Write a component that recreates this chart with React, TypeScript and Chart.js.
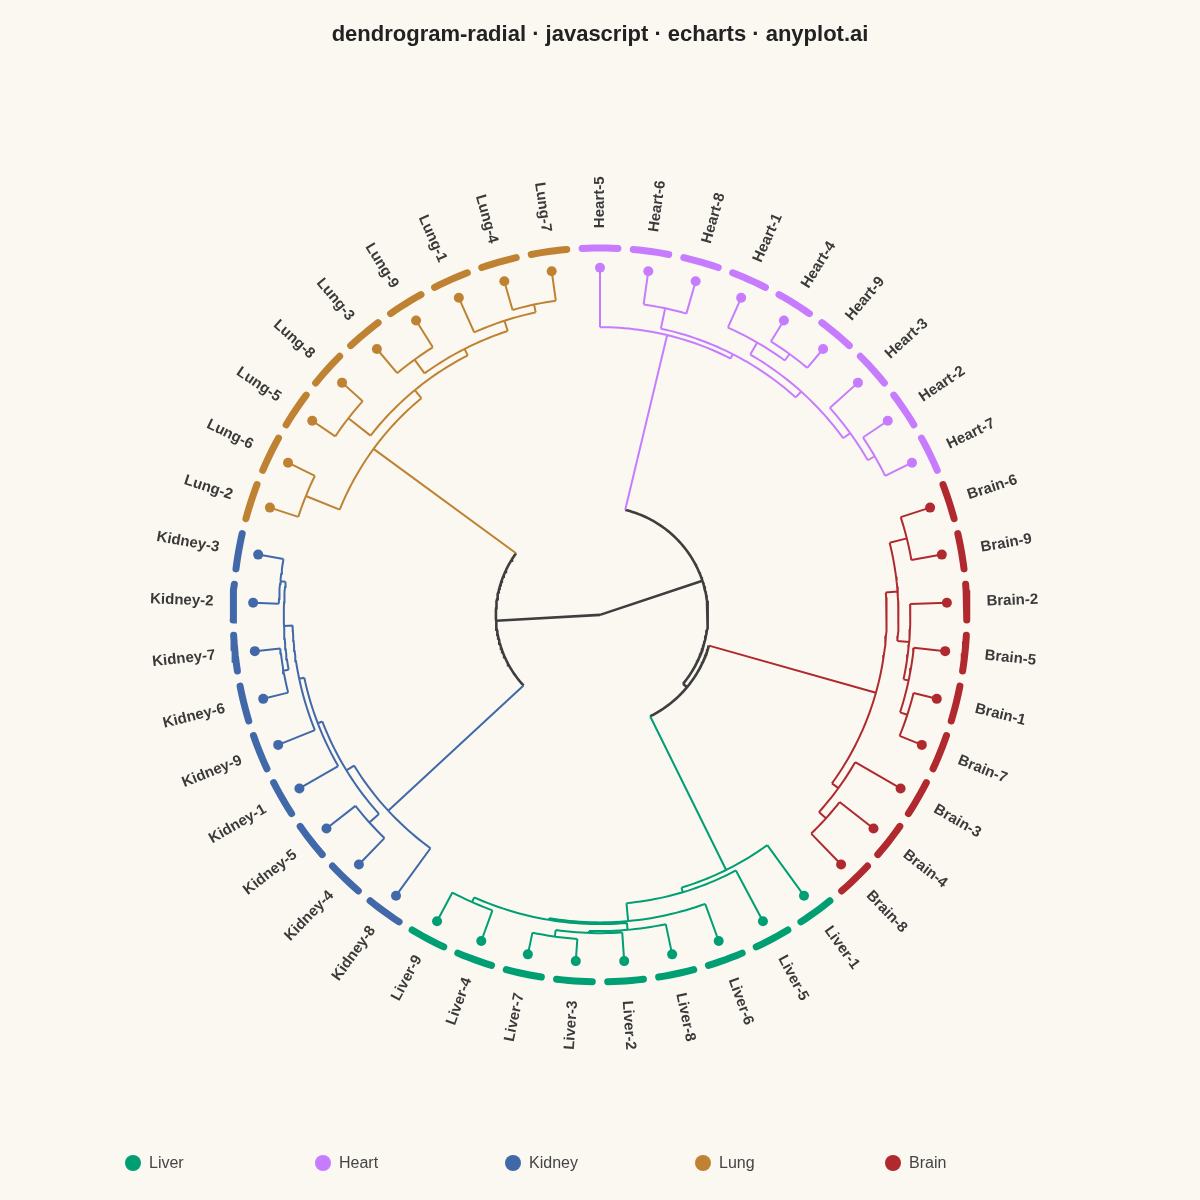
import React, { useEffect, useRef } from 'react';
import { Chart, registerables } from 'chart.js';

Chart.register(...registerables);

const TITLE = 'dendrogram-radial · javascript · echarts · anyplot.ai';

const clusterNames = ['Liver', 'Heart', 'Kidney', 'Lung', 'Brain'];
const clusterColors = ['#009E73', '#C77CFF', '#4168A8', '#BF8232', '#B0292F'];
const linkGray = '#3E3E3E';

// leaf order clockwise from the top
const leafOrder = [
  'Heart-5', 'Heart-6', 'Heart-8', 'Heart-1', 'Heart-4', 'Heart-9', 'Heart-3', 'Heart-2', 'Heart-7',
  'Brain-6', 'Brain-9', 'Brain-2', 'Brain-5', 'Brain-1', 'Brain-7', 'Brain-3', 'Brain-4', 'Brain-8',
  'Liver-1', 'Liver-5', 'Liver-6', 'Liver-8', 'Liver-2', 'Liver-3', 'Liver-7', 'Liver-4', 'Liver-9',
  'Kidney-8', 'Kidney-4', 'Kidney-5', 'Kidney-1', 'Kidney-9', 'Kidney-6', 'Kidney-7', 'Kidney-2', 'Kidney-3',
  'Lung-2', 'Lung-6', 'Lung-5', 'Lung-8', 'Lung-3', 'Lung-9', 'Lung-1', 'Lung-4', 'Lung-7',
];

// merges: [id, childA, childB, height]
const heartMerges: [string, string, string, number][] = [
  ['hA', 'Heart-6', 'Heart-8', 0.97],
  ['hB', 'Heart-4', 'Heart-9', 0.71],
  ['hC', 'Heart-1', 'hB', 0.94],
  ['hD', 'Heart-2', 'Heart-7', 0.86],
  ['hE', 'Heart-3', 'hD', 1.09],
  ['hF', 'hC', 'hE', 1.34],
  ['hG', 'hA', 'hF', 1.57],
  ['Heart', 'Heart-5', 'hG', 1.71],
];
const brainMerges: [string, string, string, number][] = [
  ['bA', 'Brain-6', 'Brain-9', 0.89],
  ['bB', 'Brain-1', 'Brain-7', 0.69],
  ['bC', 'Brain-5', 'bB', 0.91],
  ['bD', 'Brain-2', 'bC', 1.06],
  ['bE', 'bA', 'bD', 1.4],
  ['bF', 'Brain-4', 'Brain-8', 1.24],
  ['bG', 'Brain-3', 'bF', 1.51],
  ['Brain', 'bE', 'bG', 1.74],
];
const liverMerges: [string, string, string, number][] = [
  ['vA', 'Liver-3', 'Liver-7', 0.64],
  ['vB', 'Liver-2', 'vA', 0.83],
  ['vC', 'Liver-8', 'vB', 0.89],
  ['vD', 'Liver-4', 'Liver-9', 0.94],
  ['vE', 'vC', 'vD', 1.09],
  ['vF', 'Liver-6', 'vE', 1.14],
  ['vG', 'Liver-5', 'vF', 1.66],
  ['Liver', 'Liver-1', 'vG', 1.8],
];
const kidneyMerges: [string, string, string, number][] = [
  ['kA', 'Kidney-2', 'Kidney-3', 0.74],
  ['kB', 'Kidney-6', 'Kidney-7', 0.74],
  ['kC', 'kA', 'kB', 0.89],
  ['kD', 'kC', 'Kidney-9', 1.14],
  ['kE', 'kD', 'Kidney-1', 1.29],
  ['kF', 'Kidney-4', 'Kidney-5', 1.06],
  ['kG', 'kE', 'kF', 1.43],
  ['Kidney', 'kG', 'Kidney-8', 1.69],
];
const lungMerges: [string, string, string, number][] = [
  ['lA', 'Lung-4', 'Lung-7', 0.86],
  ['lB', 'Lung-1', 'lA', 1.09],
  ['lC', 'Lung-3', 'Lung-9', 0.91],
  ['lD', 'lC', 'lB', 1.4],
  ['lE', 'Lung-5', 'Lung-8', 0.8],
  ['lF', 'lE', 'lD', 1.61],
  ['lG', 'Lung-2', 'Lung-6', 0.86],
  ['Lung', 'lG', 'lF', 1.91],
];
const topMerges: [string, string, string, number][] = [
  ['BL', 'Brain', 'Liver', 6.74],
  ['R', 'Heart', 'BL', 6.89],
  ['L', 'Lung', 'Kidney', 7.0],
  ['root', 'L', 'R', 10],
];

// layout constants (pixels / degrees)
const LEAF_STEP = 8;
const R_LEAF = 350;
const R_RING = 370;
const R_LABEL = 390;
const RING_HALF = 2.8;

type NodeInfo = { angle: number; h: number; cluster: number };

function buildNodes() {
  const nodes: Record<string, NodeInfo> = {};
  leafOrder.forEach((name, i) => {
    nodes[name] = { angle: i * LEAF_STEP, h: 0, cluster: clusterNames.indexOf(name.split('-')[0]) };
  });
  const tables: [[string, string, string, number][], number][] = [
    [heartMerges, clusterNames.indexOf('Heart')],
    [brainMerges, clusterNames.indexOf('Brain')],
    [liverMerges, clusterNames.indexOf('Liver')],
    [kidneyMerges, clusterNames.indexOf('Kidney')],
    [lungMerges, clusterNames.indexOf('Lung')],
    [topMerges, -1],
  ];
  const merges: { id: string; a: string; b: string }[] = [];
  tables.forEach(([table, cl]) => {
    table.forEach(([id, a, b, h]) => {
      nodes[id] = { angle: (nodes[a].angle + nodes[b].angle) / 2, h, cluster: cl };
      merges.push({ id, a, b });
    });
  });
  return { nodes, merges };
}

export default function App() {
  const canvasRef = useRef<HTMLCanvasElement | null>(null);

  useEffect(() => {
    const canvas = canvasRef.current;
    if (!canvas) return;
    const { nodes, merges } = buildNodes();
    const rootH = Math.max(...Object.values(nodes).map((n) => n.h));
    const radius = (h: number) => R_LEAF * (1 - h / rootH);
    const toXY = (r: number, deg: number) => {
      const t = (deg * Math.PI) / 180;
      return { x: r * Math.sin(t), y: r * Math.cos(t) };
    };
    const gap = { x: null as any, y: null as any };

    // link paths per colour group (0..4 clusters, 5 = gray)
    const groups: any[][] = clusterNames.map(() => []).concat([[]]);
    const addArc = (g: number, r: number, a1: number, a2: number) => {
      const lo = Math.min(a1, a2);
      const hi = Math.max(a1, a2);
      const n = Math.max(2, Math.ceil(hi - lo) + 1);
      for (let k = 0; k <= n; k++) groups[g].push(toXY(r, lo + ((hi - lo) * k) / n));
      groups[g].push(gap);
    };
    const addRadial = (g: number, r1: number, r2: number, a: number) => {
      groups[g].push(toXY(r1, a), toXY(r2, a), gap);
    };
    const grp = (c: number) => (c < 0 ? 5 : c);
    merges.forEach(({ id, a, b }) => {
      const p = nodes[id];
      const rp = radius(p.h);
      if (rp > 0) addArc(grp(p.cluster), rp, nodes[a].angle, nodes[b].angle);
      [a, b].forEach((c) => {
        const cn = nodes[c];
        addRadial(grp(cn.cluster), radius(cn.h), rp, cn.angle);
      });
    });

    const datasets: any[] = [];
    groups.forEach((pts, g) => {
      datasets.push({
        data: pts,
        showLine: true,
        pointRadius: 0,
        borderColor: g === 5 ? linkGray : clusterColors[g],
        borderWidth: g === 5 ? 2.6 : 2,
        tension: 0,
        fill: false,
        spanGaps: false,
        order: 3,
      });
    });

    // outer ring and leaf dots
    clusterNames.forEach((cn, ci) => {
      const ring: any[] = [];
      const dots: any[] = [];
      leafOrder.forEach((name) => {
        if (nodes[name].cluster !== ci) return;
        const a = nodes[name].angle;
        for (let k = 0; k <= 6; k++) ring.push(toXY(R_RING, a - RING_HALF + (2 * RING_HALF * k) / 6));
        ring.push(gap);
        dots.push(toXY(radius(0), a));
      });
      datasets.push({
        data: ring,
        showLine: true,
        pointRadius: 0,
        borderColor: clusterColors[ci],
        borderWidth: 7,
        borderCapStyle: 'round',
        tension: 0,
        spanGaps: false,
        order: 2,
      });
      datasets.push({
        data: dots,
        showLine: false,
        pointRadius: 5,
        pointBackgroundColor: clusterColors[ci],
        pointBorderWidth: 0,
        order: 1,
      });
    });

    const textPlugin = {
      id: 'dendroText',
      beforeDraw(chart: any) {
        const ctx = chart.ctx;
        ctx.save();
        ctx.fillStyle = '#FAF8F1';
        ctx.fillRect(0, 0, chart.width, chart.height);
        ctx.restore();
      },
      afterDraw(chart: any) {
        const ctx = chart.ctx;
        const xs = chart.scales.x;
        const ys = chart.scales.y;
        ctx.save();
        ctx.font = 'bold 15px "Liberation Sans", Arial, sans-serif';
        ctx.fillStyle = '#3A3A3A';
        ctx.textBaseline = 'middle';
        leafOrder.forEach((name) => {
          const a = nodes[name].angle;
          const p = toXY(R_LABEL, a);
          ctx.save();
          ctx.translate(xs.getPixelForValue(p.x), ys.getPixelForValue(p.y));
          if (a < 180) {
            ctx.rotate(((a - 90) * Math.PI) / 180);
            ctx.textAlign = 'left';
          } else {
            ctx.rotate(((a - 270) * Math.PI) / 180);
            ctx.textAlign = 'right';
          }
          ctx.fillText(name, 0, 0);
          ctx.restore();
        });
        // title
        ctx.font = 'bold 22px "Liberation Sans", Arial, sans-serif';
        ctx.fillStyle = '#222222';
        ctx.textAlign = 'center';
        ctx.fillText(TITLE, chart.width / 2, 35);
        // legend
        ctx.font = '16px "Liberation Sans", Arial, sans-serif';
        ctx.textAlign = 'left';
        clusterNames.forEach((cn, i) => {
          const cx = 133 + i * 190;
          const cy = 1163;
          ctx.beginPath();
          ctx.arc(cx, cy, 8, 0, Math.PI * 2);
          ctx.fillStyle = clusterColors[i];
          ctx.fill();
          ctx.fillStyle = '#444444';
          ctx.fillText(cn, cx + 16, cy + 1);
        });
        ctx.restore();
      },
    };

    const chart = new Chart(canvas, {
      type: 'scatter',
      data: { datasets },
      options: {
        animation: false,
        responsive: false,
        devicePixelRatio: 1,
        events: [],
        layout: { padding: 0 },
        scales: {
          x: { type: 'linear', min: -600, max: 600, display: false },
          y: { type: 'linear', min: -585, max: 615, display: false },
        },
        plugins: {
          legend: { display: false },
          title: { display: false },
          tooltip: { enabled: false },
        },
      },
      plugins: [textPlugin],
    } as any);
    return () => chart.destroy();
  }, []);

  return (
    <div style={{ position: 'absolute', left: 0, top: 0, width: 1200, height: 1200 }}>
      <canvas ref={canvasRef} width={1200} height={1200} style={{ width: 1200, height: 1200, display: 'block' }} />
    </div>
  );
}
